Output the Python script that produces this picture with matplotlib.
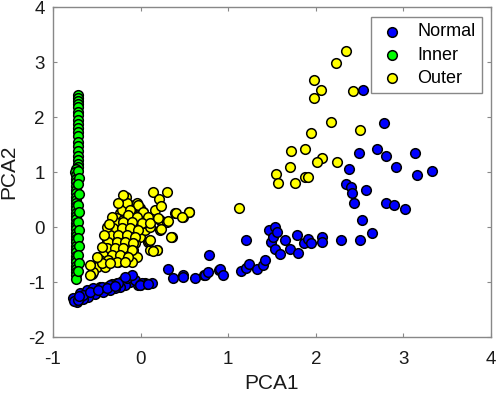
import matplotlib
matplotlib.use("Agg")
import matplotlib.pyplot as plt

plt.rcParams['font.family'] = ['Liberation Sans', 'DejaVu Sans']
plt.rcParams['axes.unicode_minus'] = False

# ---------------- data ----------------
normal_x = [-0.749, -0.711, -0.673, -0.616, -0.559, -0.501, -0.444, -0.387, -0.330, -0.273,
            -0.216, -0.159, -0.102, -0.121, -0.178, -0.235, -0.292, -0.349, -0.425, -0.520,
            -0.597, -0.654, -0.730, -0.026, 0.051, 0.126, -0.064, 0.012, -0.690, -0.740,
            -0.463, -0.330, -0.007, 0.070,
            -0.768, -0.692, -0.616, -0.539, -0.444, -0.349, -0.254, -0.159, -0.102, -0.178,
            -0.654, -0.578, -0.482, -0.387, -0.292, -0.007, 0.088, -0.760, -0.720, -0.700,
            0.317, 0.374, 0.488, 0.480, 0.621, 0.724, 0.735, 0.766, 0.784, 0.899, 0.907,
            0.937, 1.142, 1.200, 1.203, 1.241, 1.332, 1.394, 1.420, 1.469, 1.485, 1.515,
            1.531, 1.534, 1.553, 1.591, 1.645, 1.705, 1.781, 1.793, 1.865, 1.907, 1.941,
            2.067, 2.074, 2.284, 2.508, 2.642, 2.531, 2.440, 2.798, 2.893, 3.022, 2.341,
            2.405, 2.417, 2.569, 2.375, 2.919, 3.326, 3.159, 2.493, 2.695, 2.801, 3.136,
            2.779, 2.542]
normal_y = [-1.327, -1.297, -1.236, -1.176, -1.158, -1.133, -1.115, -1.085, -1.054, -1.024,
            -0.976, -0.933, -0.903, -0.994, -1.054, -1.085, -1.115, -1.146, -1.176, -1.218,
            -1.267, -1.315, -1.358, -1.054, -1.024, -1.024, -0.964, -1.012, -1.280, -1.300,
            -1.085, -1.036, -1.055, -1.036,
            -1.297, -1.206, -1.145, -1.115, -1.085, -1.054, -1.024, -0.933, -0.872, -0.903,
            -1.236, -1.175, -1.145, -1.115, -1.072, -1.054, -1.036, -1.340, -1.330, -1.260,
            -0.770, -0.921, -0.873, -0.915, -0.933, -0.867, -0.873, -0.812, -0.515, -0.782, -0.770,
            -0.867, -0.794, -0.242, -0.745, -0.673, -0.758, -0.697, -0.600, -0.055, -0.267, -0.176,
            -0.406, 0.006, -0.085, -0.491, -0.242, -0.400, -0.152, -0.479, -0.297, -0.212, -0.297,
            -0.188, -0.267, -0.242, -0.236, -0.115, 0.121, 0.442, 0.430, 0.406, 0.321, 0.776,
            0.722, 0.624, 0.679, 1.049, 1.090, 1.024, 0.945, 1.340, 1.418, 1.291, 1.340,
            1.896, 2.491]

inner_y = [2.40, 2.35, 2.30, 2.24, 2.18, 2.10, 2.03, 1.95, 1.88, 1.80, 1.72, 1.65, 1.55, 1.48,
           1.38, 1.30, 1.22, 1.15, 1.10, 1.05, 1.00, 0.95, 0.88, 0.82, 0.75, 0.68, 0.62, 0.55,
           0.50, 0.44, 0.38, 0.32, 0.25, 0.20, 0.14, 0.08, 0.02, -0.04, -0.10, -0.16, -0.22,
           -0.28, -0.34, -0.40, -0.46, -0.52, -0.58, -0.64, -0.70, -0.76, -0.82, -0.88, -0.94,
           1.02, 0.90, 0.78, 0.60, 0.40, 0.28, 0.10, -0.05, -0.20, -0.35, -0.50, -0.65, -0.80]
inner_x = [-0.715, -0.712, -0.715, -0.718, -0.713, -0.716, -0.714, -0.712, -0.716, -0.713,
           -0.718, -0.714, -0.712, -0.716, -0.715, -0.713, -0.717, -0.712, -0.716, -0.735,
           -0.745, -0.740, -0.735, -0.742, -0.738, -0.733, -0.740, -0.736, -0.742, -0.738,
           -0.733, -0.741, -0.737, -0.733, -0.740, -0.736, -0.742, -0.738, -0.735, -0.740,
           -0.736, -0.742, -0.738, -0.734, -0.740, -0.736, -0.742, -0.738, -0.735, -0.740,
           -0.736, -0.740, -0.738,
           -0.712, -0.708, -0.710, -0.706, -0.712, -0.708, -0.710, -0.706, -0.712, -0.708,
           -0.710, -0.708, -0.712]

outer_x = [-0.166, -0.178, -0.121, -0.045, -0.007, -0.235, -0.140, -0.083, 0.032, 0.070,
           -0.273, -0.197, -0.102, -0.026, -0.330, -0.235, -0.140, -0.045, -0.292, -0.197,
           -0.121, -0.007, -0.330, -0.235, -0.159, -0.064, -0.368, -0.273, -0.178, -0.083,
           -0.406, -0.311, -0.216, -0.121, -0.463, -0.349, -0.254, -0.425, -0.520, -0.558,
           -0.045, -0.007, 0.050, -0.159, -0.273, -0.387, -0.368, -0.197, -0.102, -0.083,
           -0.159, -0.216, -0.121, 0.089, 0.108, 0.146, -0.007, 0.032,
           -0.159, -0.026, -0.121, 0.031, -0.140, -0.045, 0.088, -0.292, -0.197, -0.102,
           0.012, 0.107, -0.311, -0.216, -0.121, -0.026, 0.222, 0.298, 0.222, -0.349,
           -0.254, -0.159, -0.064, -0.368, -0.273, -0.178, -0.083, 0.088, -0.387, -0.292,
           -0.197, -0.102, 0.107, 0.183, -0.425, -0.330, -0.235, -0.140, -0.463, -0.368,
           -0.273, -0.178, -0.501, -0.406, -0.539, -0.578, -0.444, -0.349, 0.165, 0.393,
           0.355, 0.100,
           -0.330, -0.387, -0.444, -0.501, -0.577, -0.197, -0.254, -0.420, -0.360,
           0.145, 0.298, 0.214, 0.229, 0.553, 0.401, 0.480, 0.316, 0.202, 0.229, 0.344,
           0.107, 0.191, 0.138, 0.556, 0.469, 1.127,
           1.542, 1.568, 1.766, 1.877, 1.907, 1.709, 1.717, 1.877, 2.074, 2.014, 2.242,
           1.948, 2.170, 2.501, 1.979, 2.063, 1.983, 2.425, 2.234, 2.341]
outer_y = [0.552, 0.430, 0.400, 0.430, 0.339, 0.248, 0.248, 0.218, 0.279, 0.188,
           0.158, 0.127, 0.127, 0.097, 0.097, 0.036, 0.006, -0.055, -0.055, -0.115,
           -0.145, -0.176, -0.206, -0.236, -0.267, -0.297, -0.327, -0.358, -0.388, -0.418,
           -0.448, -0.479, -0.509, -0.539, -0.539, -0.600, -0.630, -0.661, -0.691, -0.861,
           -0.539, 0.006, -0.055, -0.085, -0.145, -0.236, -0.418, -0.600, -0.630, 0.097,
           0.158, 0.309, 0.309, 0.097, 0.006, 0.188, 0.188, 0.067,
           0.431, 0.400, 0.310, 0.279, 0.219, 0.188, 0.188, 0.097, 0.097, 0.097,
           0.067, 0.067, -0.024, -0.024, -0.024, -0.054, 0.128, 0.097, -0.054, -0.145,
           -0.145, -0.145, -0.175, -0.266, -0.266, -0.266, -0.297, -0.266, -0.388, -0.388,
           -0.388, -0.418, -0.418, -0.418, -0.509, -0.509, -0.509, -0.539, -0.600, -0.600,
           -0.630, -0.630, -0.721, -0.721, -0.812, -0.872, -0.660, -0.660, 0.310, 0.249,
           -0.175, -0.248,
           0.190, 0.006, -0.358, -0.539, -0.690, 0.582, 0.430, -0.150, 0.050,
           0.631, 0.631, 0.509, 0.382, 0.279, 0.249, 0.188, 0.109, 0.158, -0.036, -0.188,
           -0.236, -0.418, -0.430, 0.279, 0.188, 0.351,
           0.958, 0.794, 0.806, 0.915, 0.915, 1.097, 1.382, 1.418, 1.249, 1.176, 1.188,
           1.709, 1.909, 1.764, 2.345, 2.491, 2.673, 2.467, 2.988, 3.200]

x_ticks = [-1, 0, 1, 2, 3, 4]
y_ticks = [-2, -1, 0, 1, 2, 3, 4]

# ---------------- plot ----------------
fig = plt.figure(figsize=(4.98, 3.95), dpi=100)
ax = fig.add_axes([0.1064, 0.1468, 0.8795, 0.8354])

ms = 48
lw = 1.1
ax.scatter(normal_x, normal_y, s=ms, c='#0000ff', edgecolors='black', linewidths=lw, label='Normal', zorder=3)
ax.scatter(inner_x, inner_y, s=ms, c='#00ff00', edgecolors='black', linewidths=lw, label='Inner', zorder=3)
ax.scatter(outer_x, outer_y, s=ms, c='#ffff00', edgecolors='black', linewidths=lw, label='Outer', zorder=3)

ax.set_xlim(-1, 4)
ax.set_ylim(-2, 4)
ax.set_xticks(x_ticks)
ax.set_yticks(y_ticks)
ax.tick_params(direction='in', length=3, width=0.8, colors='#888888', labelcolor='#1a1a1a',
               labelsize=13.5, top=True, right=True)
ax.tick_params(axis='x', pad=10)
ax.tick_params(axis='y', pad=6)
for sp in ax.spines.values():
    sp.set_color('#888888')
    sp.set_linewidth(1.0)

ax.set_xlabel('PCA1', fontsize=15, color='#1a1a1a')
ax.set_ylabel('PCA2', fontsize=15, color='#1a1a1a')
ax.xaxis.set_label_coords(0.5, -0.112)
ax.yaxis.set_label_coords(-0.080, 0.5)

leg = ax.legend(loc='upper right', bbox_to_anchor=(0.979, 0.970), fontsize=13,
                frameon=True, fancybox=False, edgecolor='#888888', framealpha=1,
                handletextpad=0.6, borderpad=0.35, labelspacing=0.35, handlelength=1.6,
                borderaxespad=0)
leg.get_frame().set_linewidth(1.0)

fig.savefig('out.png', dpi=100)
